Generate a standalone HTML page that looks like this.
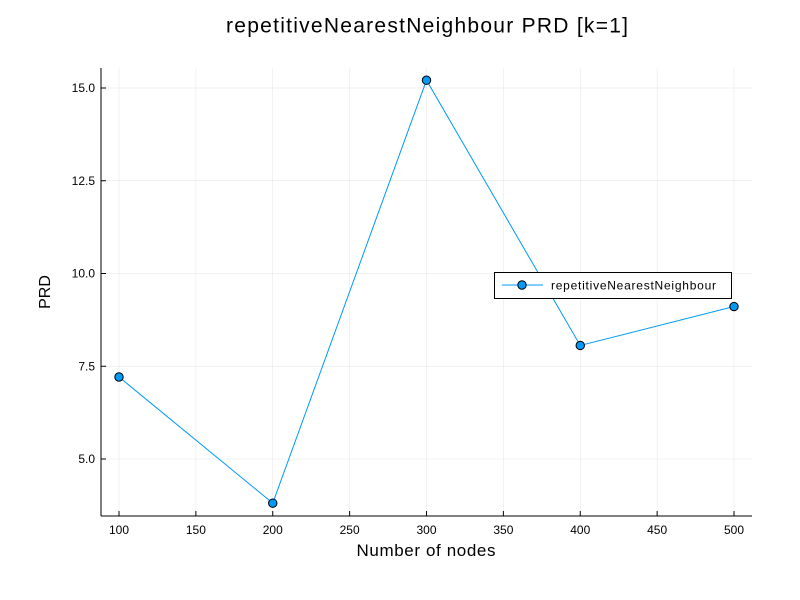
<!DOCTYPE html>
<html><head><meta charset="utf-8"><style>
html,body{margin:0;padding:0;background:#fff;}
svg{display:block;font-family:"Liberation Sans","DejaVu Sans",sans-serif;}
</style></head><body>
<svg id="chart" width="800" height="600" xmlns="http://www.w3.org/2000/svg">
<rect width="800" height="600" fill="#fff"/>
<text x="427" y="18" text-anchor="middle" font-size="21" dominant-baseline="hanging" fill="#000" textLength="402">repetitiveNearestNeighbour PRD [k=1]</text>
<g id="grid"></g>
<g id="axes"></g>
<g id="series"></g>
<text x="426" y="556" text-anchor="middle" font-size="17" fill="#000" textLength="139">Number of nodes</text>
<text x="50" y="292" text-anchor="middle" font-size="16" fill="#000" transform="rotate(-90 50 292)">PRD</text>
<g>
<rect x="494.5" y="272.5" width="237" height="26" fill="#fff" stroke="#000" stroke-width="1"/>
<line x1="502" y1="285" x2="543" y2="285" stroke="#009af9" stroke-width="1"/>
<circle cx="522" cy="285" r="4.2" fill="#009af9" stroke="#000" stroke-width="1"/>
<text x="551" y="289.5" font-size="12" fill="#000" textLength="165">repetitiveNearestNeighbour</text>
</g>
</svg>
<script>
const categories = [100, 200, 300, 400, 500];
const prdValues = [7.21, 3.81, 15.21, 8.06, 9.11];
const xTicks = [100, 150, 200, 250, 300, 350, 400, 450, 500];
const yTicks = [5.0, 7.5, 10.0, 12.5, 15.0];
const yTickLabels = ["5.0", "7.5", "10.0", "12.5", "15.0"];

const NS = "http://www.w3.org/2000/svg";
const pLeft = 101, pRight = 752, pTop = 68, pBottom = 516;
function xs(v){ return 119 + (v - 100) * (734 - 119) / 400; }
function ys(v){ return 459 - (v - 5) * (459 - 88) / 10; }
function mk(tag, attrs, parent){ const e = document.createElementNS(NS, tag); for (const k in attrs) e.setAttribute(k, attrs[k]); parent.appendChild(e); return e; }

const grid = document.getElementById('grid'), axes = document.getElementById('axes'), series = document.getElementById('series');
xTicks.forEach(t => {
  const g = mk('line', {x1: xs(t), x2: xs(t), y1: pTop, y2: pBottom, stroke: '#000', 'stroke-opacity': 0.1, 'stroke-width': 0.5}, grid);
  
  
  mk('line', {x1: xs(t), x2: xs(t), y1: pBottom, y2: pBottom - 5, stroke: '#000', 'stroke-width': 1}, axes);
  const tx = mk('text', {x: xs(t), y: pBottom + 18, 'text-anchor': 'middle', 'font-size': 12, fill: '#000'}, axes);
  tx.textContent = t;
  
  
});
yTicks.forEach((t, i) => {
  const g = mk('line', {x1: pLeft, x2: pRight, y1: ys(t), y2: ys(t), stroke: '#000', 'stroke-opacity': 0.1, 'stroke-width': 0.5}, grid);
  
  
  mk('line', {x1: pLeft, x2: pLeft + 5, y1: ys(t), y2: ys(t), stroke: '#000', 'stroke-width': 1}, axes);
  const tx = mk('text', {x: pLeft - 6, y: ys(t) + 4, 'text-anchor': 'end', 'font-size': 12, fill: '#000'}, axes);
  tx.textContent = yTickLabels[i];
  
  
});
const xa = mk('line', {x1: pLeft, x2: pRight, y1: pBottom, y2: pBottom, stroke: '#000', 'stroke-width': 1}, axes);


const ya = mk('line', {x1: pLeft, x2: pLeft, y1: pTop, y2: pBottom, stroke: '#000', 'stroke-width': 1}, axes);



const pts = categories.map((c, i) => xs(c) + ',' + ys(prdValues[i])).join(' ');
const line = mk('polyline', {points: pts, fill: 'none', stroke: '#009af9', 'stroke-width': 1}, series);


categories.forEach((c, i) => {
  const p = mk('circle', {cx: xs(c), cy: ys(prdValues[i]), r: 4.2, fill: '#009af9', stroke: '#000', 'stroke-width': 1}, series);
  
  
});
</script>
</body></html>
